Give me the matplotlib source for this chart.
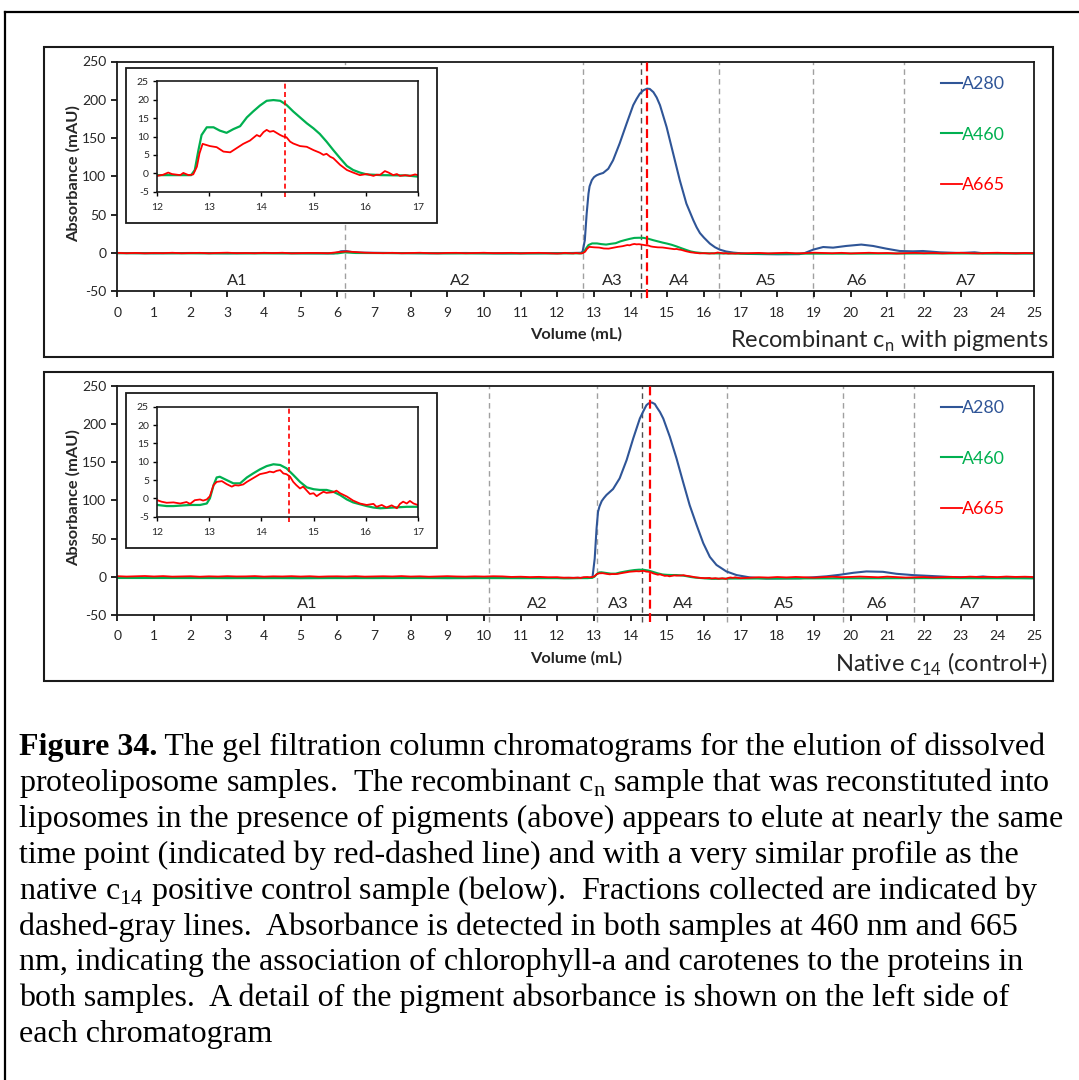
import numpy as np
import matplotlib
matplotlib.use("Agg")
import matplotlib.pyplot as plt
from matplotlib.patches import Rectangle
from matplotlib.lines import Line2D

# ---------------------------------------------------------------- data
# Recombinant c_n with pigments (upper chromatogram)
top_vol_280 = [0.0, 1.0, 2.0, 3.0, 4.0, 5.0, 5.9, 6.0, 6.1, 6.25, 6.4, 6.6, 7.5, 8.5,
               9.5, 10.5, 11.5, 12.4, 12.65, 12.69, 12.75, 12.80, 12.85, 12.88, 12.94,
               13.0, 13.07, 13.15, 13.25, 13.39, 13.52, 13.70, 13.89, 14.07, 14.16,
               14.25, 14.35, 14.45, 14.52, 14.62, 14.71, 14.80, 14.98, 15.16, 15.34,
               15.52, 15.71, 15.80, 15.89, 16.0, 16.16, 16.3, 16.43, 16.6, 16.80, 17.2,
               18.0, 18.6, 18.75, 18.98, 19.25, 19.52, 19.88, 20.29, 20.61, 20.97,
               21.34, 21.70, 21.97, 22.43, 22.97, 23.38, 23.6, 24.2, 25.0]
top_a280 = [0.0, -0.3, 0.0, -0.3, 0.0, -0.3, -0.5, 0.5, 2.3, 2.5, 1.2, 0.5, 0.0, -0.3,
            0.0, -0.5, -0.3, 0.0, 0.3, 2.0, 16.6, 51.0, 77.5, 87.0, 95.0,
            99.0, 101.4, 103.0, 104.5, 110.0, 121.0, 143.0, 169.0, 193.0, 201.0,
            208.0, 212.5, 214.6, 214.2, 210.0, 203.0, 193.0, 164.5, 129.8, 95.0,
            64.5, 42.7, 33.5, 26.0, 20.0, 12.3, 7.5, 4.4, 2.0, 0.5, -1.2,
            -1.7, -1.5, 0.0, 4.4, 7.8, 7.0, 9.2, 11.0, 9.2, 5.7,
            2.6, 2.2, 2.6, 0.9, 0.0, 0.9, -0.3, -0.4, -0.4]

top_vol_460 = [0.0, 3.0, 6.0, 6.2, 6.5, 9.0, 12.0, 12.3, 12.65, 12.72, 12.79, 12.85,
               12.95, 13.08, 13.20, 13.33, 13.46, 13.59, 13.72, 13.84, 13.97, 14.10,
               14.23, 14.36, 14.48, 14.61, 14.74, 14.87, 15.00, 15.12, 15.25, 15.38,
               15.51, 15.64, 15.76, 15.89, 16.02, 16.3, 16.8, 17.0, 20.0, 22.0, 25.0]
top_a460 = [-0.3, -0.5, -0.5, 0.8, 0.0, -0.5, -0.5, -0.5, -0.5, 0.9, 6.3, 10.4,
            12.5, 12.5, 11.6, 11.0, 12.0, 12.8, 15.2, 16.8, 18.4, 19.7,
            19.9, 19.7, 18.6, 16.8, 15.2, 13.6, 12.2, 10.7, 8.6, 6.3,
            4.1, 2.0, 0.9, 0.2, -0.3, -0.5, -0.6, -0.9, -0.8, -0.6, -0.6]

# A665 is read every 0.25 mL on the flat stretches, finer across the peak
top_a665_early = [0.2, -0.3, 0.1, -0.4, 0.0, -0.2, 0.3, -0.3, -0.1, 0.2, -0.4, 0.1,
                  0.4, -0.2, 0.0, -0.3, 0.2, -0.1, 0.3, -0.4, -0.2, 0.1, 0.0, -0.3,
                  1.0, 2.0, 1.2, 0.4, 0.1, -0.2, 0.2, -0.3, 0.0, 0.3, -0.2, -0.4,
                  0.1, 0.2, -0.3, 0.0, 0.3, -0.2, -0.1, 0.2, -0.4, 0.0, 0.2, -0.3]
top_vol_665_peak = [12.0, 12.11, 12.21, 12.28, 12.44, 12.50, 12.60, 12.69, 12.76, 12.81,
                    12.87, 13.01, 13.14, 13.27, 13.40, 13.52, 13.65, 13.78, 13.91, 13.97,
                    14.04, 14.10, 14.16, 14.23, 14.29, 14.36, 14.42, 14.48, 14.55, 14.61,
                    14.74, 14.87, 15.00, 15.12, 15.19, 15.25, 15.32, 15.38, 15.51, 15.64,
                    15.76, 15.89, 16.02, 16.15, 16.21, 16.28, 16.37, 16.44, 16.53, 16.60,
                    16.66, 16.76, 16.85, 16.95, 17.0]
top_a665_peak = [-0.7, -0.4, 0.2, -0.2, -0.5, 0.1, -0.5, -0.3, 1.8, 5.4,
                 8.0, 7.4, 7.1, 5.9, 5.7, 6.8, 8.0, 8.9, 10.4, 10.0,
                 11.2, 11.8, 11.3, 11.5, 11.0, 10.4, 10.0, 9.8, 8.6, 8.1,
                 7.4, 7.2, 6.3, 5.6, 5.0, 5.3, 4.5, 4.1, 2.3, 0.9,
                 0.2, -0.5, -0.2, -0.7, -0.4, -0.4, 0.6, 0.2, -0.5, -0.2,
                 -0.7, -0.5, -0.7, -0.3, -0.5]
top_a665_late = [-0.2, 0.1, -0.5, -0.1, 0.3, -0.4, -0.2, 0.4, 0.0, -0.3, 0.2, -0.5,
                 -0.1, 0.3, -0.2, 0.0, -0.6, -0.2, 0.2, -0.3, 0.1, -0.4, 0.0, 0.3,
                 -0.2, -0.5, 0.1, 0.3, -0.1, -0.4, 0.0, -0.3]

# Native c14, positive control (lower chromatogram)
bot_vol_280 = [0.0, 1.0, 2.0, 3.0, 4.0, 5.0, 6.0, 7.0, 8.0, 9.0, 10.0, 11.0, 12.0,
               12.9, 12.96, 13.02, 13.07, 13.11, 13.15, 13.21, 13.27, 13.34, 13.52,
               13.70, 13.89, 14.07, 14.25, 14.35, 14.43, 14.48, 14.54, 14.58, 14.66,
               14.71, 14.80, 14.89, 15.07, 15.25, 15.43, 15.61, 15.80, 15.98, 16.16,
               16.34, 16.61, 16.89, 17.25, 17.7, 18.6, 19.34, 19.7, 20.07, 20.43,
               20.88, 21.25, 21.70, 22.25, 22.79, 23.3, 23.61, 23.9, 25.0]
bot_a280 = [-1.2, -1.5, -1.3, -1.6, -1.4, -1.7, -1.5, -1.6, -1.4, -1.7, -1.5, -1.6, -1.6,
            -1.4, -0.5, 24.0, 63.0, 85.0, 92.0, 99.0, 103.0, 107.0, 114.8,
            128.8, 152.7, 181.0, 207.0, 217.0, 224.5, 226.5, 228.0, 228.0, 226.0,
            222.0, 215.5, 207.0, 183.0, 155.0, 124.0, 93.6, 67.5, 44.0, 26.0,
            15.5, 7.0, 2.2, -0.8, -2.3, -2.0, 0.6, 2.6, 5.2, 7.0,
            6.5, 3.9, 2.2, 0.9, -0.4, -0.8, 0.4, -1.2, -1.7]

bot_vol_460 = [0.0, 4.0, 8.0, 12.0, 12.18, 12.31, 12.63, 12.82, 12.95, 13.01, 13.08,
               13.14, 13.20, 13.33, 13.46, 13.59, 13.72, 13.84, 13.97, 14.10, 14.23,
               14.36, 14.48, 14.61, 14.74, 14.87, 15.00, 15.12, 15.25, 15.38, 15.51,
               15.64, 15.76, 15.89, 16.02, 16.15, 16.28, 16.53, 16.79, 17.0, 20.0,
               22.0, 25.0]
bot_a460 = [-1.6, -1.8, -1.7, -1.8, -2.1, -2.1, -1.8, -1.8, -1.4, 0.0, 3.6,
            5.7, 5.9, 5.0, 4.1, 4.1, 5.7, 6.8, 7.9, 8.8, 9.3,
            9.1, 8.2, 6.4, 4.5, 3.0, 2.5, 2.3, 2.3, 1.8, 0.9,
            -0.3, -1.1, -1.6, -2.1, -2.5, -2.7, -2.5, -2.3, -2.3, -2.0,
            -1.8, -2.0]

bot_a665_early = [0.8, 0.3, 0.6, 1.0, 0.4, 0.9, 0.2, 0.5, 0.7, 0.1, 0.6, 0.3,
                  0.8, 0.4, 0.5, 0.9, 0.2, 0.6, 0.4, 0.8, 0.3, 0.7, 0.1, 0.5,
                  0.6, 0.3, 0.8, 0.2, 0.5, 0.7, 0.4, 0.9, 0.3, 0.6, 0.1, 0.5,
                  0.8, 0.4, 0.2, 0.6, 0.3, 0.7, 0.5, -0.2, 0.1, -0.4, -0.1, -0.6]
bot_vol_665_peak = [12.0, 12.08, 12.18, 12.31, 12.44, 12.56, 12.63, 12.72, 12.82, 12.88,
                    12.95, 13.01, 13.08, 13.14, 13.24, 13.33, 13.43, 13.49, 13.56, 13.65,
                    13.72, 13.84, 13.91, 13.97, 14.10, 14.16, 14.23, 14.29, 14.36, 14.42,
                    14.48, 14.55, 14.61, 14.67, 14.74, 14.80, 14.87, 14.93, 15.00, 15.06,
                    15.12, 15.19, 15.25, 15.38, 15.44, 15.51, 15.64, 15.76, 15.89, 16.02,
                    16.15, 16.21, 16.31, 16.40, 16.50, 16.60, 16.66, 16.72, 16.79, 16.85,
                    16.92, 17.0]
bot_a665_peak = [-0.5, -0.9, -1.2, -1.1, -1.4, -1.0, -1.5, -0.5, -0.3, -0.6,
                 -0.3, 0.6, 3.6, 4.5, 4.7, 3.9, 3.2, 3.6, 3.5, 3.8,
                 4.5, 5.5, 6.1, 6.6, 7.0, 7.3, 7.1, 7.5, 7.7, 6.8,
                 6.6, 5.9, 4.5, 3.6, 2.7, 3.2, 2.1, 1.2, 1.4, 0.6,
                 1.2, 1.8, 1.5, 1.7, 2.1, 1.4, 0.5, -0.6, -1.4, -1.8,
                 -1.5, -2.3, -1.8, -2.5, -1.9, -2.7, -1.5, -0.9, -1.4, -0.7,
                 -1.4, -1.8]
bot_a665_late = [-1.2, -0.6, -1.0, -0.3, -0.8, -0.2, -0.7, -1.1, -0.4, 0.1, -0.5, -0.2,
                 0.3, -0.1, -0.6, 0.2, -0.4, -1.0, -0.7, -0.3, -0.9, -0.5, -0.1, -0.6,
                 0.2, -0.3, 0.0, -0.4, 0.3, -0.2, 0.1, -0.3]

# Fraction boundaries (mL), fraction names and label positions
top_cuts = [6.22, 12.71, 16.41, 18.98, 21.45]
top_cut_dark = 14.27
top_elution = 14.45
top_frac_pos = [3.26, 9.35, 13.49, 15.32, 17.69, 20.19, 23.14]
bot_cuts = [10.15, 13.09, 16.62, 19.78, 21.73]
bot_cut_dark = 14.30
bot_elution = 14.52
bot_frac_pos = [5.17, 11.44, 13.67, 15.44, 18.18, 20.73, 23.27]
frac_names = ["A1", "A2", "A3", "A4", "A5", "A6", "A7"]
series_names = ["A280", "A460", "A665"]

caption_lines = [
    " The gel filtration column chromatograms for the elution of dissolved",
    "proteoliposome samples.  The recombinant c$_\\mathregular{n}$ sample that was reconstituted into",
    "liposomes in the presence of pigments (above) appears to elute at nearly the same",
    "time point (indicated by red-dashed line) and with a very similar profile as the",
    "native c$_\\mathregular{14}$ positive control sample (below).  Fractions collected are indicated by",
    "dashed-gray lines.  Absorbance is detected in both samples at 460 nm and 665",
    "nm, indicating the association of chlorophyll-a and carotenes to the proteins in",
    "both samples.  A detail of the pigment absorbance is shown on the left side of",
    "each chromatogram",
]

# ---------------------------------------------------------------- style
W, H, DPI = 1079, 1080, 100
plt.rcParams['font.family'] = ['Lato', 'DejaVu Sans']
plt.rcParams['axes.unicode_minus'] = False
BLUE, GREEN, RED = '#2F5597', '#00B050', '#FF0000'
GRAY, DARK = '#A0A0A0', '#505050'
TXT = '#262626'

fig = plt.figure(figsize=(W / DPI, H / DPI), dpi=DPI)
fig.patch.set_facecolor('white')


def fx(px):
    return px / W


def fy(py):
    return 1 - py / H


def box(l, t, r, b):
    return [fx(l), fy(b), (r - l) / W, (b - t) / H]


def assemble(early, vol_peak, peak, late):
    vol = np.concatenate([np.arange(len(early)) * 0.25, vol_peak,
                          17.25 + np.arange(len(late)) * 0.25])
    return vol, np.concatenate([early, peak, late])


def panel(ax_box, in_box, frame_box, outer_box, s280, s460, s665,
          cuts, cut_dark, elution, frac_pos, title, title_y, legend_top):
    ax = fig.add_axes(box(*ax_box), zorder=0)
    l1, = ax.plot(*s280, color=BLUE, lw=1.5, label=series_names[0])
    l2, = ax.plot(*s460, color=GREEN, lw=1.5, label=series_names[1])
    l3, = ax.plot(*s665, color=RED, lw=1.3, label=series_names[2])
    ax.set_xlim(0, 25)
    ax.set_ylim(-50, 250)
    ax.set_xticks(range(0, 26))
    ax.set_yticks(range(-50, 251, 50))
    ax.tick_params(direction='out', length=4, width=1.2, labelsize=10,
                   labelcolor=TXT)
    ax.tick_params(axis='x', pad=7)
    ax.tick_params(axis='y', pad=4)
    for s in ax.spines.values():
        s.set_linewidth(1.3)
        s.set_color('#1a1a1a')
    for c in cuts:
        ax.axvline(c, ymin=-0.03, ymax=1, color=GRAY, lw=1.0,
                   dashes=(4, 3), clip_on=False, zorder=1)
    ax.axvline(cut_dark, ymin=-0.03, ymax=1, color=DARK, lw=1.0,
               dashes=(4, 3), clip_on=False, zorder=1)
    ax.axvline(elution, ymin=-0.03, ymax=1, color=RED, lw=1.6,
               dashes=(4, 2), clip_on=False, zorder=4)
    for name, pos in zip(frac_names, frac_pos):
        ax.text(pos, -36, name, ha='center', va='center', fontsize=11.8,
                color=TXT)
    ax.legend(handles=[l1, l2, l3], loc='upper left',
              bbox_to_anchor=(fx(941), fy(legend_top)),
              bbox_transform=fig.transFigure, frameon=False, fontsize=12.8,
              handlelength=1.19, handletextpad=0.0, labelspacing=1.95,
              borderpad=0, borderaxespad=0, labelcolor='linecolor')

    # white chart-area frame behind the pigment detail
    fl, ft, fr, fb = frame_box
    fig.add_artist(Rectangle((fx(fl), fy(fb)), (fr - fl) / W, (fb - ft) / H,
                             transform=fig.transFigure, facecolor='white',
                             edgecolor='#1a1a1a', lw=1.3, zorder=1))
    axi = fig.add_axes(box(*in_box), zorder=2)
    axi.plot(*s460, color=GREEN, lw=1.6)
    axi.plot(*s665, color=RED, lw=1.3)
    axi.set_xlim(12, 17)
    axi.set_ylim(-5, 25)
    axi.set_xticks(range(12, 18))
    axi.set_yticks(range(-5, 26, 5))
    axi.tick_params(direction='out', length=3, width=1.0, labelsize=7.5,
                    labelcolor=TXT)
    axi.tick_params(axis='x', pad=5)
    axi.tick_params(axis='y', pad=3)
    for s in axi.spines.values():
        s.set_linewidth(1.2)
        s.set_color('#1a1a1a')
    axi.axvline(elution, ymin=-0.045, ymax=1, color=RED, lw=1.2,
                dashes=(3, 2), clip_on=False)

    ol, ot, orr, ob = outer_box
    fig.add_artist(Rectangle((fx(ol), fy(ob)), (orr - ol) / W, (ob - ot) / H,
                             transform=fig.transFigure, facecolor='none',
                             edgecolor='#1a1a1a', lw=1.5, zorder=3))
    cx = (ax_box[0] + ax_box[2]) / 2
    cy = (ax_box[1] + ax_box[3]) / 2
    fig.text(fx(cx), fy(ax_box[3] + 43.5), 'Volume (mL)', ha='center',
             va='center', fontsize=11.8, fontweight='bold', color=TXT)
    fig.text(fx(73), fy(cy - 3), 'Absorbance (mAU)', ha='center', va='center',
             rotation=90, fontsize=11.8, fontweight='bold', color=TXT)
    fig.text(fx(1048), fy(title_y), title, ha='right', va='baseline',
             fontsize=17, color=TXT)


panel((117.3, 61.5, 1034, 291.3), (157.3, 81.3, 417.7, 191.7),
      (125.7, 67.7, 437.0, 222.7), (44, 47, 1053, 357),
      (top_vol_280, top_a280), (top_vol_460, top_a460),
      assemble(top_a665_early, top_vol_665_peak, top_a665_peak, top_a665_late),
      top_cuts, top_cut_dark, top_elution, top_frac_pos,
      'Recombinant c$_\\mathregular{n}$ with pigments', 348.3, 76)

panel((117.3, 385.7, 1034, 615.0), (157.3, 406.7, 417.7, 516.7),
      (125.7, 392.7, 437.0, 547.7), (44, 372, 1053, 681),
      (bot_vol_280, bot_a280), (bot_vol_460, bot_a460),
      assemble(bot_a665_early, bot_vol_665_peak, bot_a665_peak, bot_a665_late),
      bot_cuts, bot_cut_dark, bot_elution, bot_frac_pos,
      'Native c$_\\mathregular{14}$ (control+)', 671.7, 400)

# ---------------------------------------------------------------- caption
serif = ['Liberation Serif', 'DejaVu Serif']
cap_size = 23.0
x0, base0, step = 19, 755.5, 35.8
head = fig.text(fx(x0), fy(base0), 'Figure 34.', family=serif, fontsize=cap_size,
                fontweight='bold', ha='left', va='baseline', color='black')
renderer = fig.canvas.get_renderer()
head_end = head.get_window_extent(renderer).x1
for i, line in enumerate(caption_lines):
    xs = head_end / W if i == 0 else fx(x0)
    fig.text(xs, fy(base0 + i * step), line, family=serif, fontsize=cap_size,
             ha='left', va='baseline', color='black')

# page edge
fig.add_artist(Line2D([fx(5), fx(5)], [fy(12), 0], transform=fig.transFigure,
                      color='black', lw=1.6))
fig.add_artist(Line2D([fx(5), 1], [fy(12), fy(12)], transform=fig.transFigure,
                      color='black', lw=1.6))

fig.savefig('out.png', dpi=DPI)
